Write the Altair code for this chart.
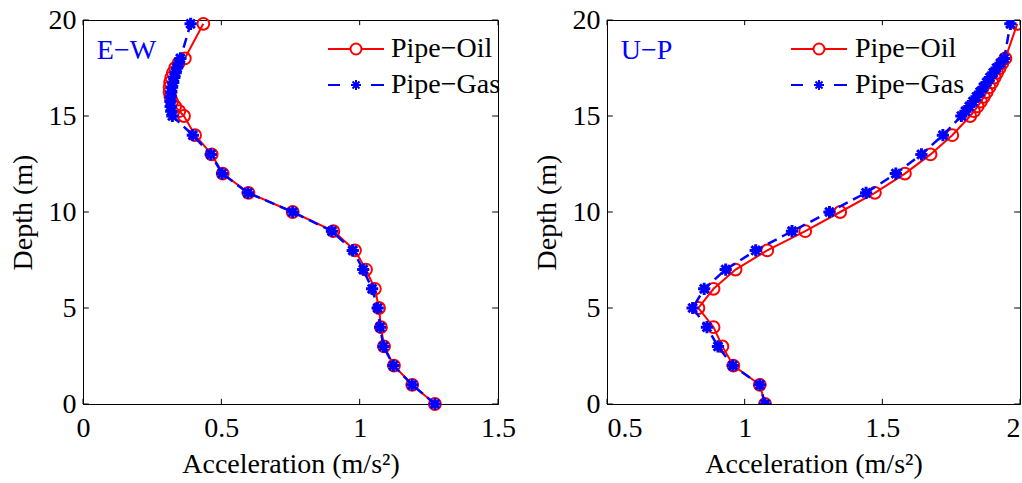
import altair as alt
import pandas as pd

# ---------------- data ----------------
DEPTH = [0, 1, 2, 3, 4, 5, 6, 7, 8, 9, 10, 11, 12, 13, 14,
         15, 15.25, 15.5, 15.75, 16, 16.25, 16.5, 16.75, 17, 17.25, 17.5, 17.75, 18,
         19.8]

EW_OIL = [1.272, 1.190, 1.124, 1.088, 1.077, 1.070, 1.055, 1.023, 0.983, 0.905, 0.758,
          0.598, 0.505, 0.465, 0.405,
          0.365, 0.348, 0.333, 0.322, 0.316, 0.313, 0.313, 0.315, 0.319, 0.325, 0.333,
          0.345, 0.368,
          0.435]
EW_GAS = [1.272, 1.190, 1.122, 1.086, 1.074, 1.065, 1.045, 1.013, 0.975, 0.900, 0.758,
          0.596, 0.503, 0.462, 0.397,
          0.323, 0.319, 0.317, 0.316, 0.317, 0.319, 0.322, 0.326, 0.330, 0.335, 0.340,
          0.346, 0.352,
          0.389]

UP_OIL = [1.074, 1.055, 0.959, 0.919, 0.887, 0.832, 0.887, 0.967, 1.082, 1.220, 1.347,
          1.473, 1.582, 1.675, 1.754,
          1.819, 1.833, 1.846, 1.858, 1.869, 1.879, 1.889, 1.899, 1.908, 1.917, 1.926,
          1.936, 1.947,
          1.990]
UP_GAS = [1.074, 1.055, 0.957, 0.903, 0.863, 0.811, 0.853, 0.931, 1.040, 1.172, 1.308,
          1.441, 1.549, 1.642, 1.720,
          1.787, 1.802, 1.816, 1.829, 1.842, 1.855, 1.867, 1.879, 1.891, 1.903, 1.915,
          1.929, 1.943,
          1.965]

SERIES = ["Pipe\u2212Oil", "Pipe\u2212Gas"]
Y_TICKS = [0, 5, 10, 15, 20]
EW_X_TICKS = [0, 0.5, 1, 1.5]
UP_X_TICKS = [0.5, 1, 1.5, 2]
PANEL_LABELS = ["E\u2212W", "U\u2212P"]

FONT = "Liberation Serif, Times New Roman, Times, DejaVu Serif, serif"
RED = "#ff0000"
BLUE = "#0000ff"

ASTERISK = "M-1,0H1M0,-1V1M-0.7,-0.7L0.7,0.7M-0.7,0.7L0.7,-0.7"
LEG_OIL = ("M-2.8,0H-0.55M0.55,0H2.8"
           "M0.55,0A0.55,0.55 0 1,1 -0.55,0A0.55,0.55 0 1,1 0.55,0")
LEG_GAS = ("M-2.8,0H-1.6M1.5,0H2.8"
           "M-0.5,0H0.5M0,-0.5V0.5M-0.35,-0.35L0.35,0.35M-0.35,0.35L0.35,-0.35")

H = 384


def panel(oil, gas, xdom, xticks, label, legx, laboff, width, clip, flush):
    df_oil = pd.DataFrame({"depth": DEPTH, "acc": oil})
    df_gas = pd.DataFrame({"depth": DEPTH, "acc": gas})
    xs = alt.Scale(domain=xdom, nice=False, zero=False)
    ys = alt.Scale(domain=[0, 20], nice=False)
    X = alt.X("acc:Q", scale=xs,
              axis=alt.Axis(values=xticks, title="Acceleration (m/s\u00b2)",
                            labelExpr="'' + datum.value", labelFlush=flush))
    Y = alt.Y("depth:Q", scale=ys,
              axis=alt.Axis(values=Y_TICKS, title="Depth (m)", minExtent=36, maxExtent=36))

    oil_line = alt.Chart(df_oil).mark_line(color=RED, strokeWidth=2, clip=clip).encode(
        x=X, y=Y, order="depth:Q")
    oil_pts = alt.Chart(df_oil).mark_point(shape="circle", filled=False, color=RED,
                                           strokeWidth=2, size=140, opacity=1,
                                           clip=clip).encode(x=X, y=Y)
    gas_line = alt.Chart(df_gas).mark_line(color=BLUE, strokeWidth=2.5,
                                           strokeDash=[10, 6], clip=clip).encode(
        x=X, y=Y, order="depth:Q")
    gas_pts = alt.Chart(df_gas).mark_point(shape=ASTERISK, filled=False, color=BLUE,
                                           strokeWidth=3, size=150, opacity=1,
                                           clip=clip).encode(x=X, y=Y)

    leg_df = pd.DataFrame({"series": SERIES, "acc": [oil[0], gas[0]],
                           "depth": [DEPTH[0], DEPTH[0]]})
    legend = alt.Legend(orient="none", legendX=legx, legendY=15, title=None,
                        symbolOpacity=1, symbolStrokeWidth=2, symbolSize=400,
                        symbolFillColor="transparent",
                        labelFont=FONT, labelFontSize=28, labelColor="black",
                        labelOffset=laboff, rowPadding=8, padding=0)
    leg = alt.Chart(leg_df).mark_point(opacity=0, filled=False).encode(
        x=X, y=Y,
        color=alt.Color("series:N", scale=alt.Scale(domain=SERIES, range=[RED, BLUE]),
                        legend=legend),
        shape=alt.Shape("series:N", scale=alt.Scale(domain=SERIES, range=[LEG_OIL, LEG_GAS]),
                        legend=legend),
    )

    txt = alt.Chart(pd.DataFrame({"t": [label]})).mark_text(
        font=FONT, fontSize=28, color=BLUE, align="left", baseline="middle").encode(
        x=alt.datum(xdom[0] + 0.05, scale=xs), y=alt.datum(18.4, scale=ys), text="t:N")

    xt = pd.DataFrame({"v": xticks})
    yt = pd.DataFrame({"v": Y_TICKS})
    dx = (xdom[1] - xdom[0]) * 0.014
    tick_b = alt.Chart(xt).mark_rule(color="black").encode(
        x=alt.X("v:Q", scale=xs), y=alt.datum(0, scale=ys), y2=alt.datum(0.27))
    tick_t = alt.Chart(xt).mark_rule(color="black").encode(
        x=alt.X("v:Q", scale=xs), y=alt.datum(20, scale=ys), y2=alt.datum(19.73))
    tick_l = alt.Chart(yt).mark_rule(color="black").encode(
        y=alt.Y("v:Q", scale=ys), x=alt.datum(xdom[0], scale=xs), x2=alt.datum(xdom[0] + dx))
    tick_r = alt.Chart(yt).mark_rule(color="black").encode(
        y=alt.Y("v:Q", scale=ys), x=alt.datum(xdom[1], scale=xs), x2=alt.datum(xdom[1] - dx))

    return alt.layer(tick_b, tick_t, tick_l, tick_r, oil_line, oil_pts, gas_line, gas_pts,
                     leg, txt).properties(width=width, height=H)


left = panel(EW_OIL, EW_GAS, [0, 1.5], EW_X_TICKS, PANEL_LABELS[0], 259, 21, 415, False, False)
right = panel(UP_OIL, UP_GAS, [0.5, 2], UP_X_TICKS, PANEL_LABELS[1], 198, 22, 413, True, True)

chart = alt.hconcat(left, right, spacing=16).resolve_scale(
    color="independent", shape="independent", x="independent", y="independent"
).resolve_legend(color="independent", shape="independent").properties(
    padding={"left": 8, "top": 5, "right": 0, "bottom": 1},
    background="white",
).configure_axis(
    labelFont=FONT, labelFontSize=28, labelColor="black",
    titleFont=FONT, titleFontSize=28, titleFontWeight="normal", titleColor="black",
    domainColor="black", domainWidth=1, ticks=False, grid=False,
    labelPadding=7, titlePadding=10,
).configure_axisX(labelPadding=10, titlePadding=8).configure_view(
    stroke="black", strokeWidth=1
)

chart.save("out.html", embed_options={"renderer": "svg", "actions": False})
